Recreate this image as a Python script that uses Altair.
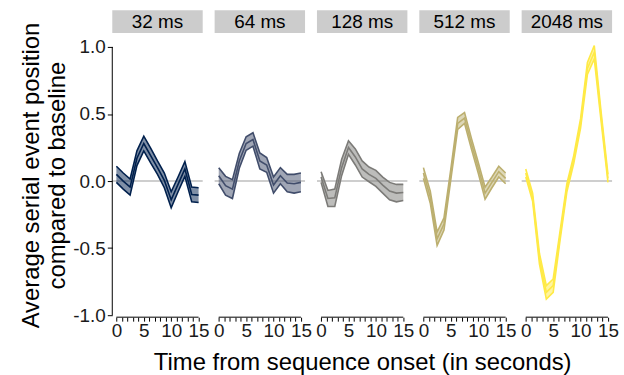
import altair as alt
import pandas as pd

# ---- data ----
times = [0, 1.25, 2.5, 3.75, 5, 6.25, 7.5, 8.75, 10, 11.25, 12.5, 13.75, 15]
durations = ["32 ms", "64 ms", "128 ms", "512 ms", "2048 ms"]
colors = ["#00204D", "#414D6B", "#7C7B78", "#BCAF6F", "#FFEA46"]

mean_32 = [0.05, 0.0, -0.045, 0.17, 0.28, 0.19, 0.10, 0.005, -0.14, -0.025, 0.09, -0.10, -0.105]
mean_64 = [0.04, -0.035, -0.06, 0.15, 0.28, 0.31, 0.15, 0.12, -0.03, 0.04, -0.015, -0.02, -0.01]
mean_128 = [0.03, -0.13, -0.125, 0.10, 0.25, 0.18, 0.09, 0.05, 0.02, -0.03, -0.075, -0.09, -0.085]
mean_512 = [0.06, -0.12, -0.43, -0.32, 0.05, 0.43, 0.47, 0.28, 0.10, -0.09, -0.01, 0.07, 0.02]
mean_2048 = [0.06, -0.12, -0.58, -0.83, -0.78, -0.41, -0.05, 0.16, 0.43, 0.84, 0.96, 0.48, 0.02]

se_32 = [0.06, 0.06, 0.06, 0.055, 0.055, 0.055, 0.05, 0.055, 0.06, 0.055, 0.055, 0.055, 0.055]
se_64 = [0.06, 0.07, 0.07, 0.055, 0.05, 0.05, 0.06, 0.055, 0.06, 0.06, 0.065, 0.07, 0.07]
se_128 = [0.04, 0.06, 0.065, 0.06, 0.05, 0.06, 0.06, 0.055, 0.06, 0.06, 0.065, 0.065, 0.06]
se_512 = [0.04, 0.045, 0.05, 0.045, 0.04, 0.045, 0.04, 0.04, 0.04, 0.045, 0.04, 0.04, 0.04]
se_2048 = [0.03, 0.03, 0.04, 0.05, 0.05, 0.035, 0.03, 0.03, 0.035, 0.045, 0.05, 0.035, 0.03]

means = [mean_32, mean_64, mean_128, mean_512, mean_2048]
ses = [se_32, se_64, se_128, se_512, se_2048]

x_ticks = list(range(16))
y_ticks = [-1.0, -0.5, 0.0, 0.5, 1.0]
x_title = "Time from sequence onset (in seconds)"
y_title = ["Average serial event position", "compared to baseline"]

# ---- layout constants ----
W, H = 91, 286
FONT = "Liberation Sans"
x_scale = alt.Scale(domain=[-0.75, 15.75], nice=False, zero=False)
y_scale = alt.Scale(domain=[-1.015, 1.104], nice=False, zero=False)


def panel(i):
    df = pd.DataFrame({
        "t": times,
        "mean": means[i],
        "lo": [m - s for m, s in zip(means[i], ses[i])],
        "hi": [m + s for m, s in zip(means[i], ses[i])],
    })
    col = colors[i]
    x_axis = alt.Axis(
        values=x_ticks,
        labelExpr="datum.value % 5 === 0 ? datum.label : ''",
        tickSize=4,
        domain=False, grid=False, tickColor="black", tickWidth=1,
        labelFontSize=19, labelFont=FONT, labelColor="#1a1a1a", labelPadding=0,
        labelOverlap=False, labelFlush=False,
        title=x_title if i == 2 else None,
        titleFontSize=24, titleFont=FONT, titleFontWeight="normal", titleColor="black",
        titlePadding=11,
    )
    if i == 0:
        y_axis = alt.Axis(
            values=y_ticks, format=".1f",
            labelExpr="replace(datum.label, '\u2212', '-')",
            domain=False, grid=False, tickSize=5, tickColor="black",
            labelFontSize=19, labelFont=FONT, labelColor="#1a1a1a", labelPadding=2,
            title=y_title, titleFontSize=24, titleFont=FONT, titleFontWeight="normal",
            titleColor="black", titlePadding=3, titleLineHeight=27,
        )
    else:
        y_axis = None

    X = alt.X("t:Q", scale=x_scale, axis=x_axis)
    base = alt.Chart(df)
    area = base.mark_area(opacity=0.5, color=col).encode(
        x=X,
        y=alt.Y("lo:Q", scale=y_scale, axis=y_axis),
        y2="hi:Q",
    )
    lines = [
        base.mark_line(color=col, strokeWidth=1.6).encode(
            x=X, y=alt.Y(f"{f}:Q", scale=y_scale, axis=y_axis))
        for f in ["lo", "hi", "mean"]
    ]
    one = alt.Chart(pd.DataFrame({"label": [durations[i]]}))
    zero = one.mark_rule(color="#BEBEBE", strokeWidth=1.5).encode(
        y=alt.Y(datum=0, scale=y_scale, axis=y_axis), x=alt.value(0), x2=alt.value(W))
    xline = one.mark_rule(color="black", strokeWidth=1).encode(
        x=alt.X(datum=x_ticks[0], scale=x_scale, axis=x_axis), x2=alt.X2(datum=x_ticks[-1]),
        y=alt.value(H))
    strip = one.mark_rect(color="#CCCCCC").encode(
        x=alt.value(0), x2=alt.value(W), y=alt.value(-23), y2=alt.value(0))
    strip_text = one.mark_text(fontSize=19, font=FONT, color="black", baseline="middle",
                               align="center").encode(
        text="label:N", x=alt.value(W / 2), y=alt.value(-11.5))
    layers = [zero, area] + lines + [xline, strip, strip_text]
    if i == 0:
        yline = one.mark_rule(color="black", strokeWidth=1).encode(
            y=alt.Y(datum=y_ticks[0], scale=y_scale, axis=y_axis), y2=alt.Y2(datum=y_ticks[-1]),
            x=alt.value(0))
        layers.append(yline)
    return alt.layer(*layers).properties(width=W, height=H)


chart = alt.hconcat(*[panel(i) for i in range(5)], spacing=12, bounds="flush").properties(
    padding={"left": 19, "top": 9, "right": 5, "bottom": 2},
    background="white",
).configure_view(stroke=None)

chart.save("out.html", embed_options={"renderer": "svg", "actions": False})
